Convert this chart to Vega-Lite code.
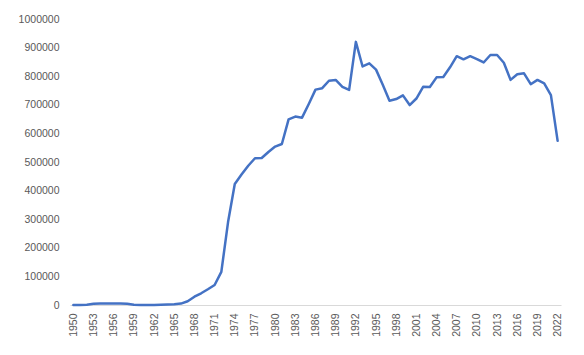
{
  "$schema": "https://vega.github.io/schema/vega-lite/v6.json",
  "width": 491,
  "height": 286,
  "autosize": {"type": "none"},
  "padding": {"left": 70, "top": 19, "right": 23, "bottom": 50},
  "background": "white",
  "config": {
    "view": {"stroke": null},
    "font": "Liberation Sans",
    "axis": {"labelFont": "Liberation Sans", "labelFontSize": 10.5, "labelColor": "#595959", "grid": false, "ticks": false}
  },
  "data": {
    "values": [
      {"year": 1950, "value": 0},
      {"year": 1951, "value": 0},
      {"year": 1952, "value": 1000},
      {"year": 1953, "value": 4000},
      {"year": 1954, "value": 5000},
      {"year": 1955, "value": 5000},
      {"year": 1956, "value": 5000},
      {"year": 1957, "value": 5000},
      {"year": 1958, "value": 4000},
      {"year": 1959, "value": 1000},
      {"year": 1960, "value": 0},
      {"year": 1961, "value": 0},
      {"year": 1962, "value": 0},
      {"year": 1963, "value": 1000},
      {"year": 1964, "value": 2000},
      {"year": 1965, "value": 3000},
      {"year": 1966, "value": 5000},
      {"year": 1967, "value": 13000},
      {"year": 1968, "value": 29000},
      {"year": 1969, "value": 41000},
      {"year": 1970, "value": 55000},
      {"year": 1971, "value": 70000},
      {"year": 1972, "value": 116000},
      {"year": 1973, "value": 290000},
      {"year": 1974, "value": 423000},
      {"year": 1975, "value": 456000},
      {"year": 1976, "value": 487000},
      {"year": 1977, "value": 513000},
      {"year": 1978, "value": 514000},
      {"year": 1979, "value": 535000},
      {"year": 1980, "value": 554000},
      {"year": 1981, "value": 563000},
      {"year": 1982, "value": 649000},
      {"year": 1983, "value": 659000},
      {"year": 1984, "value": 655000},
      {"year": 1985, "value": 703000},
      {"year": 1986, "value": 753000},
      {"year": 1987, "value": 758000},
      {"year": 1988, "value": 784000},
      {"year": 1989, "value": 787000},
      {"year": 1990, "value": 763000},
      {"year": 1991, "value": 752000},
      {"year": 1992, "value": 920000},
      {"year": 1993, "value": 834000},
      {"year": 1994, "value": 845000},
      {"year": 1995, "value": 823000},
      {"year": 1996, "value": 770000},
      {"year": 1997, "value": 714000},
      {"year": 1998, "value": 720000},
      {"year": 1999, "value": 733000},
      {"year": 2000, "value": 699000},
      {"year": 2001, "value": 722000},
      {"year": 2002, "value": 763000},
      {"year": 2003, "value": 762000},
      {"year": 2004, "value": 796000},
      {"year": 2005, "value": 797000},
      {"year": 2006, "value": 831000},
      {"year": 2007, "value": 870000},
      {"year": 2008, "value": 859000},
      {"year": 2009, "value": 870000},
      {"year": 2010, "value": 860000},
      {"year": 2011, "value": 848000},
      {"year": 2012, "value": 874000},
      {"year": 2013, "value": 874000},
      {"year": 2014, "value": 847000},
      {"year": 2015, "value": 787000},
      {"year": 2016, "value": 807000},
      {"year": 2017, "value": 810000},
      {"year": 2018, "value": 772000},
      {"year": 2019, "value": 787000},
      {"year": 2020, "value": 775000},
      {"year": 2021, "value": 734000},
      {"year": 2022, "value": 574000}
    ]
  },
  "mark": {"type": "line", "color": "#4472C4", "strokeWidth": 2.5, "strokeJoin": "round", "strokeCap": "round"},
  "encoding": {
    "x": {
      "field": "year",
      "type": "quantitative",
      "scale": {"domain": [1949.5, 2022.5], "nice": false, "zero": false},
      "axis": {
        "title": null,
        "values": [1950, 1953, 1956, 1959, 1962, 1965, 1968, 1971, 1974, 1977, 1980, 1983, 1986, 1989, 1992, 1995, 1998, 2001, 2004, 2007, 2010, 2013, 2016, 2019, 2022],
        "format": "d",
        "labelAngle": -90,
        "labelPadding": 8,
        "domainColor": "#d9d9d9",
        "domainWidth": 1,
        "labelFlush": false,
        "labelOverlap": false
      }
    },
    "y": {
      "field": "value",
      "type": "quantitative",
      "scale": {"domain": [0, 1000000], "nice": false},
      "axis": {
        "title": null,
        "values": [0, 100000, 200000, 300000, 400000, 500000, 600000, 700000, 800000, 900000, 1000000],
        "format": "d",
        "domain": false,
        "labelPadding": 11
      }
    }
  }
}
